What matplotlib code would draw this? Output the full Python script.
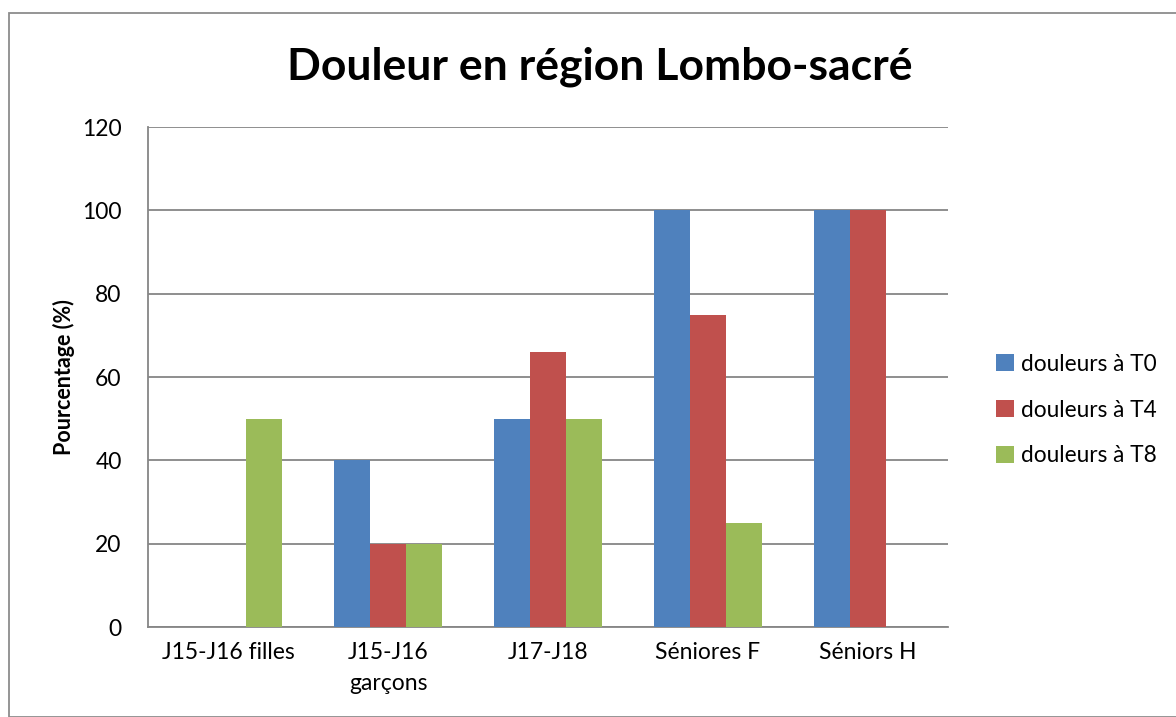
import matplotlib.pyplot as plt
import numpy as np
from matplotlib.patches import Rectangle

categories = ['J15-J16 filles', 'J15-J16\ngarçons', 'J17-J18', 'Séniores F', 'Séniors H']
series_names = ['douleurs à T0', 'douleurs à T4', 'douleurs à T8']
t0 = [0, 40, 50, 100, 100]
t4 = [0, 20, 66, 75, 100]
t8 = [50, 20, 50, 25, 0]
colors = ['#4F81BD', '#C0504D', '#9BBB59']

plt.rcParams['font.family'] = ['Lato', 'DejaVu Sans']

fig = plt.figure(figsize=(11.76, 7.17), dpi=100)
W, H = 1176, 717
ax = fig.add_axes([148 / W, 1 - 627 / H, 800 / W, 500 / H])

x = np.arange(len(categories))
width = 0.225
for i, (vals, name) in enumerate(zip([t0, t4, t8], series_names)):
    ax.bar(x + (i - 1) * width, vals, width, color=colors[i], label=name, zorder=3)

ax.set_xlim(-0.5, len(categories) - 0.5)
ax.set_ylim(0, 120)
ax.set_yticks(range(0, 121, 20))
ax.yaxis.grid(True, color='#868686', linewidth=1.3, zorder=0)
ax.set_xticks(x)
ax.set_xticklabels(categories, fontsize=16.5, linespacing=1.55)
ax.tick_params(axis='both', length=0, labelsize=16.5)
ax.tick_params(axis='x', pad=11)
ax.tick_params(axis='y', pad=19)
for side in ['top', 'right']:
    ax.spines[side].set_visible(False)
for side in ['left', 'bottom']:
    ax.spines[side].set_color('#868686')
    ax.spines[side].set_linewidth(1.3)

ax.set_ylabel('Pourcentage (%)', fontsize=15.5, fontweight='bold', labelpad=5)
fig.text(600 / W, 1 - 67 / H, 'Douleur en région Lombo-sacré', ha='center', va='center',
         fontsize=32, fontweight='bold')

ax.legend(loc='center left', bbox_to_anchor=(976 / W, 1 - 410 / H), bbox_transform=fig.transFigure,
          frameon=False, fontsize=16.3, handlelength=0.8, handleheight=0.8,
          handletextpad=0.3, labelspacing=1.1)

# chart frame
fig.patches.append(Rectangle((9 / W, 0), 1.2, 1 - 13 / H, transform=fig.transFigure,
                             fill=False, edgecolor='#8c8c8c', linewidth=1.3))

plt.savefig('out.png', dpi=100)
